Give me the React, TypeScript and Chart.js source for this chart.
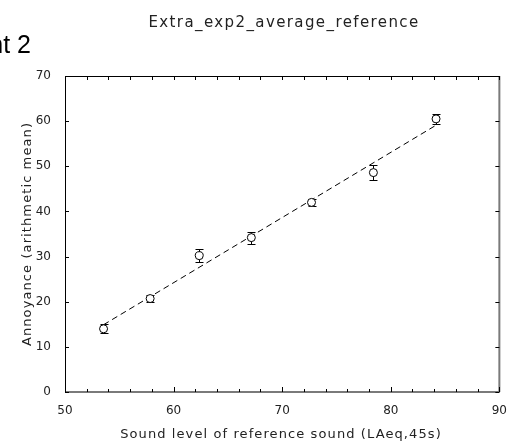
import React, { useEffect, useRef } from "react";
import { Chart, registerables } from "chart.js";

Chart.register(...registerables);

// Data
const soundLevel = [53.55, 57.84, 62.36, 67.16, 72.7, 78.4, 84.17];
const annoyance = [14.0, 20.7, 30.2, 34.2, 42.0, 48.6, 60.5];
const errorHalf = [1.0, 0.8, 1.5, 1.35, 0.8, 1.6, 1.1];
const fitX = [53.55, 84.17];
const fitY = [14.9, 59.1];
const xMinorTicks = [50, 52, 54, 56, 58, 60, 62, 64, 66, 68, 70, 72, 74, 76, 78, 80, 82, 84, 86, 88, 90];
const yTickValues = [0, 10, 20, 30, 40, 50, 60, 70];

const chartTitle = "Extra_exp2_average_reference";
const pageHeading = "Experiment 2";
const xTitle = "Sound level of reference sound (LAeq,45s)";
const yTitle = "Annoyance (arithmetic mean)";

const FONT = "'DejaVu Sans', Verdana, sans-serif";

const decor = {
  id: "decor",
  beforeDatasetsDraw(chart: any) {
    const { ctx, scales } = chart;
    const x = scales.x;
    const y = scales.y;
    ctx.save();
    ctx.strokeStyle = "#000";
    ctx.lineWidth = 1;
    soundLevel.forEach((v, i) => {
      const px = Math.round(x.getPixelForValue(v)) + 0.5;
      const top = Math.round(y.getPixelForValue(annoyance[i] + errorHalf[i])) + 0.5;
      const bot = Math.round(y.getPixelForValue(annoyance[i] - errorHalf[i])) + 0.5;
      ctx.beginPath();
      ctx.moveTo(px, top);
      ctx.lineTo(px, bot);
      ctx.moveTo(px - 4, top);
      ctx.lineTo(px + 4, top);
      ctx.moveTo(px - 4, bot);
      ctx.lineTo(px + 4, bot);
      ctx.stroke();
    });
    ctx.restore();
  },
  afterDraw(chart: any) {
    const { ctx, chartArea, scales } = chart;
    const { left, right, top, bottom } = chartArea;
    const x = scales.x;
    const y = scales.y;
    ctx.save();
    // frame: black top/left, grey bottom/right
    ctx.strokeStyle = "#000";
    ctx.lineWidth = 1;
    ctx.beginPath();
    ctx.moveTo(left + 0.5, bottom);
    ctx.lineTo(left + 0.5, top + 0.5);
    ctx.lineTo(right, top + 0.5);
    ctx.stroke();
    ctx.strokeStyle = "#7a7a7a";
    ctx.lineWidth = 2;
    ctx.beginPath();
    ctx.moveTo(left, bottom);
    ctx.lineTo(right, bottom);
    ctx.moveTo(right, bottom);
    ctx.lineTo(right, top);
    ctx.stroke();
    // inward ticks
    ctx.strokeStyle = "#000";
    ctx.lineWidth = 1;
    ctx.beginPath();
    xMinorTicks.forEach((v) => {
      const px = Math.round(x.getPixelForValue(v)) + 0.5;
      const major = v % 10 === 0;
      ctx.moveTo(px, bottom);
      ctx.lineTo(px, bottom - (major ? 5 : 3));
      ctx.moveTo(px, top);
      ctx.lineTo(px, top + 4);
    });
    yTickValues.forEach((v) => {
      const py = Math.round(y.getPixelForValue(v)) + 0.5;
      ctx.moveTo(left, py);
      ctx.lineTo(left + 4, py);
      ctx.moveTo(right, py);
      ctx.lineTo(right - 4, py);
    });
    ctx.stroke();

    // texts
    ctx.fillStyle = "#222";
    (ctx as any).letterSpacing = "1.4px";
    ctx.font = `15px ${FONT}`;
    ctx.textAlign = "center";
    ctx.textBaseline = "alphabetic";
    ctx.fillText(chartTitle, 284, 27);

    (ctx as any).letterSpacing = "1.1px";
    ctx.font = `13px ${FONT}`;
    ctx.fillText(xTitle, 281, 438);

    ctx.save();
    ctx.translate(31, 234);
    ctx.rotate(-Math.PI / 2);
    ctx.textBaseline = "alphabetic";
    ctx.fillText(yTitle, 0, 0);
    ctx.restore();

    (ctx as any).letterSpacing = "0px";
    ctx.fillStyle = "#000";
    ctx.font = `25px 'Liberation Sans', Arial, sans-serif`;
    ctx.textAlign = "right";
    ctx.fillText(pageHeading, 31, 53);
    ctx.restore();
  },
};

export default function App() {
  const ref = useRef<HTMLCanvasElement>(null);
  useEffect(() => {
    const tickFont = { family: FONT, size: 12 };
    const chart = new Chart(ref.current as HTMLCanvasElement, {
      type: "scatter",
      data: {
        datasets: [
          {
            label: "mean",
            data: soundLevel.map((v, i) => ({ x: v, y: annoyance[i] })),
            pointRadius: 4,
            pointBorderWidth: 1,
            pointBorderColor: "#000",
            pointBackgroundColor: "#fff",
            order: 1,
          },
          {
            label: "fit",
            data: fitX.map((v, i) => ({ x: v, y: fitY[i] })),
            showLine: true,
            borderColor: "#000",
            borderWidth: 1,
            borderDash: [6, 4],
            pointRadius: 0,
            order: 2,
          } as any,
        ],
      },
      options: {
        responsive: false,
        animation: false,
        devicePixelRatio: 1,
        layout: { padding: { top: 76, right: 7, left: 0, bottom: 0 } },
        plugins: { legend: { display: false }, tooltip: { enabled: false }, title: { display: false } },
        scales: {
          x: {
            type: "linear",
            min: 50,
            max: 90,
            ticks: { stepSize: 10, padding: 4, font: tickFont, color: "#222", maxRotation: 0 },
            grid: { display: false },
            border: { display: false },
            afterFit(s: any) {
              s.height = 50;
            },
          },
          y: {
            type: "linear",
            min: 0,
            max: 70,
            ticks: { stepSize: 10, padding: 6, font: tickFont, color: "#222" },
            grid: { display: false },
            border: { display: false },
            afterFit(s: any) {
              s.width = 65;
            },
          },
        },
      },
      plugins: [decor],
    });
    return () => chart.destroy();
  }, []);
  return (
    <div style={{ position: "absolute", left: 0, top: 0, width: 511, height: 442, background: "#fff" }}>
      <canvas ref={ref} width={511} height={442} />
    </div>
  );
}
